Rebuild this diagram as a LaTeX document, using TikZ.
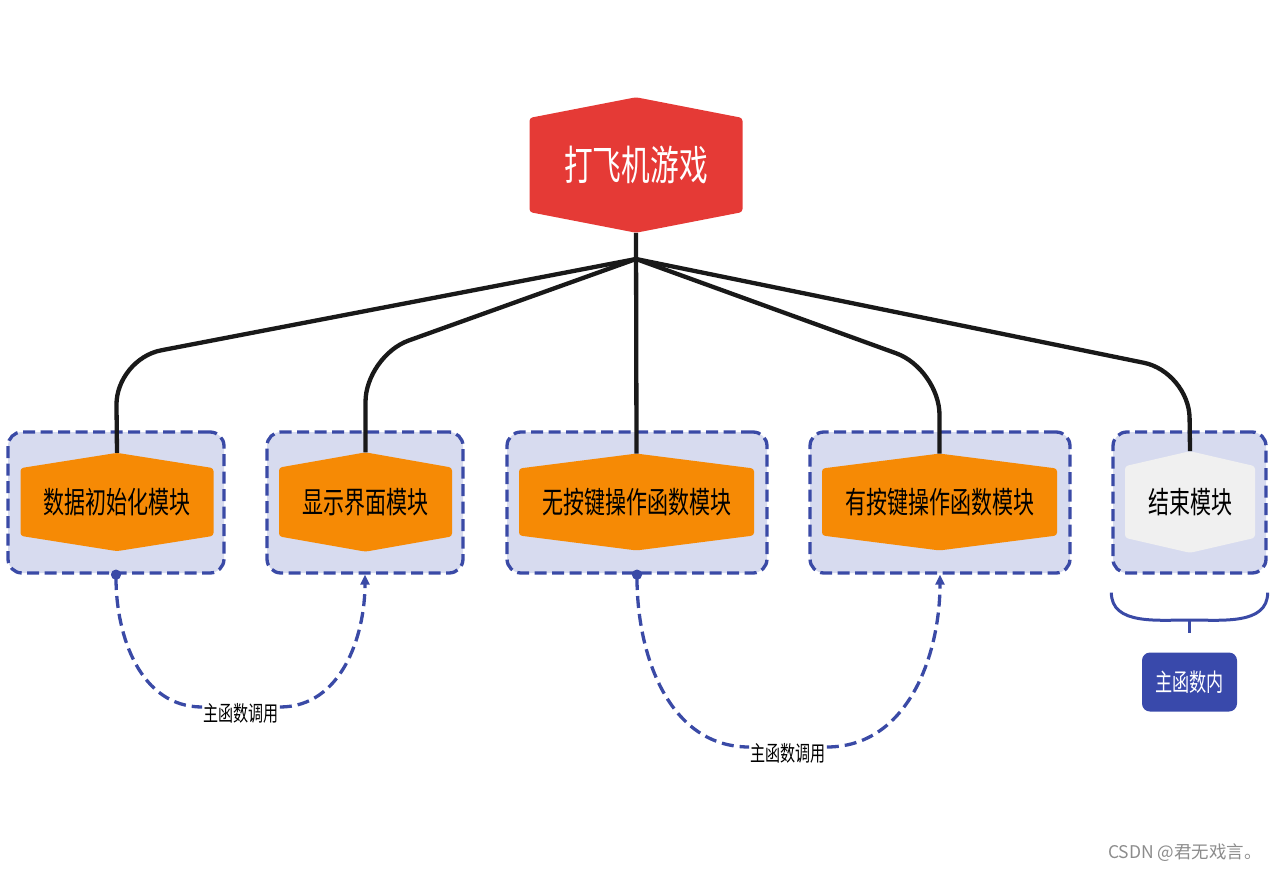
\documentclass[tikz,border=0pt]{standalone}
\usepackage{fontspec}
\newfontfamily\cjk[FakeStretch=0.7]{Noto Sans CJK SC}
\newfontfamily\wmfont{Noto Sans CJK SC}
\usetikzlibrary{shapes.symbols,arrows.meta}

\definecolor{titleRed}{HTML}{E53A36}
\definecolor{modOrange}{HTML}{F68A05}
\definecolor{endGray}{HTML}{F0F0F0}
\definecolor{boxFill}{HTML}{D7DBEF}
\definecolor{callBlue}{HTML}{3A4AA6}
\definecolor{mainBlue}{HTML}{3949AB}

\begin{document}
\begin{tikzpicture}[x=1pt,y=-1pt,
		% dashed group box round each module
		modbox/.style={draw=callBlue, fill=boxFill, line width=3.3pt,
			dash pattern=on 12pt off 5.5pt, rounded corners=14pt,
			minimum height=141pt, inner sep=0pt},
		% flat hexagon for a module
		hexnode/.style={signal, signal to=north and south, draw=none, rounded corners=3pt,
			inner sep=0pt, outer sep=0pt, minimum height=91pt,
			font=\cjk\fontsize{30}{32}\selectfont},
		tree/.style={line width=4.3pt, black!90, rounded corners=46pt},
		call/.style={draw=callBlue, line width=3.3pt, dash pattern=on 12pt off 6pt},
		calltext/.style={fill=white, inner sep=1pt, font=\cjk\fontsize{21.5}{23}\selectfont}
	]
	
	% page frame of the reference
	\useasboundingbox (0,0) rectangle (1276,872);
	
	% --- Root ---
	\node[hexnode, fill=titleRed, text=white, minimum width=213pt, minimum height=122pt,
	signal pointer angle=158, font=\cjk\fontsize{41}{43}\selectfont] (game) at (636,165) {打飞机游戏};
	\coordinate (hub) at (636,259);
	
	% --- Group boxes ---
	% name/center x/box width
	\foreach \n/\x/\w in {g1/116/216, g2/365/196, g3/637/260, g4/940/260, g5/1189.5/153} {
		\node[modbox, minimum width=\w pt] (\n) at (\x,502.5) {};
	}
	
	% --- Modules ---
	% name/center x/width/pointer angle/text
	\foreach \n/\x/\w/\a/\t in {m1/117/193/162/数据初始化模块, m2/365.5/173/160/显示界面模块,
		m3/636.5/235/165.5/无按键操作函数模块, m4/939.5/235/165.5/有按键操作函数模块} {
		\node[hexnode, fill=modOrange, minimum width=\w pt, signal pointer angle=\a] (\n) at (\x,502) {\t};
	}
	\node[hexnode, fill=endGray, minimum width=130pt, signal pointer angle=154] (m5) at (1190,502) {结束模块};
	
	% --- Tree connectors ---
	\coordinate (k1) at (116,359);
	\coordinate (k2) at (365.5,356);
	\coordinate (k4) at (939.5,369);
	\coordinate (k5) at (1189,372);
	\draw[tree] (game.south) -- (m3.north);
	\draw[tree] (hub) -- (k1) -- (m1.north);
	\draw[tree] (hub) -- (k2) -- (m2.north);
	\draw[tree] (hub) -- (k4) -- (m4.north);
	\draw[tree] (hub) -- (k5) -- (m5.north);
	
	% --- Calls from the main function ---
	\node[calltext] (c1) at (241,713) {主函数调用};
	\node[calltext] (c2) at (788,753) {主函数调用};
	\draw[call, {Circle[length=10pt,width=10pt]}-, shorten <=-5pt]
	(g1.south) to[out=-90,in=180] ([yshift=6pt]c1.west);
	\draw[call, -{Triangle[length=10pt,width=9pt]}]
	([yshift=6pt]c1.east) to[out=0,in=-90] (g2.south);
	\draw[call, {Circle[length=10pt,width=10pt]}-, shorten <=-5pt]
	(g3.south) to[out=-90,in=180] ([yshift=6pt]c2.west);
	\draw[call, -{Triangle[length=10pt,width=9pt]}]
	([yshift=6pt]c2.east) to[out=0,in=-90] (g4.south);
	
	% --- Bracket under the end module ---
	\coordinate (br) at (1189.5,620);
	\coordinate (brs) at (1189.5,633);
	\draw[callBlue, line width=3pt]
	([yshift=-18pt]g5.south west) to[out=-90,in=180] (br) to[out=0,in=-90] ([yshift=-18pt]g5.south east);
	\draw[callBlue, line width=3pt] (br) -- (brs);
	\node[fill=mainBlue, text=white, rounded corners=8pt, minimum width=95pt, minimum height=59pt,
	font=\cjk\fontsize{24.5}{26}\selectfont] (mainfn) at (1189.5,682) {主函数内};
	
	% watermark
	\node[text=black!45, font=\wmfont\fontsize{17.5}{19}\selectfont] (wm) at (1185,853) {CSDN @君无戏言。};
	
\end{tikzpicture}
\end{document}
